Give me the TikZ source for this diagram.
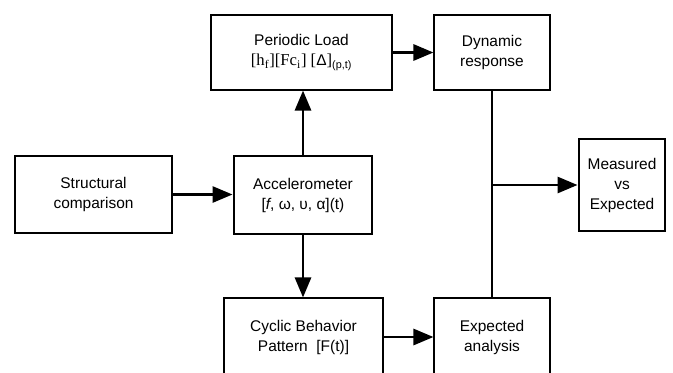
\documentclass[tikz,border=0pt]{standalone}
\usepackage{fontspec}
\setmainfont{Liberation Sans}
\newfontfamily\serifx{Liberation Serif}
\usetikzlibrary{arrows.meta}
\begin{document}
\begin{tikzpicture}[x=0.75pt,y=-0.75pt,
  box/.style={draw,line width=0.8pt,align=center,inner sep=0pt,
    font=\fontsize{11.6}{15}\selectfont},
  thickbox/.style={box,line width=2.2pt},
  conn/.style={line width=2.1pt,-{Triangle[length=15pt,width=12pt]}},
  plain/.style={line width=2.1pt}]
\useasboundingbox (0,0) rectangle (673,372);
\clip (0,0) rectangle (673,372);
\node[box,minimum width=181*0.75pt,minimum height=75*0.75pt] (PL) at (301.5,52.5)
  {Periodic Load\\{\serifx\fontsize{12.5}{15}\selectfont[h\textsubscript{f}][Fc\textsubscript{i}] [}Δ{\serifx\fontsize{12.5}{15}\selectfont]}\textsubscript{(p,t)}};
\node[box,minimum width=116*0.75pt,minimum height=75*0.75pt] (DR) at (492,52.5)
  {Dynamic\\response};
\node[box,minimum width=157*0.75pt,minimum height=77*0.75pt] (SC) at (93.5,194.5)
  {Structural\\comparison};
\node[thickbox,minimum width=138*0.75pt,minimum height=78*0.75pt] (AC) at (303,195)
  {Accelerometer\\{}[\textit{f}, ω, υ, α](t)};
\node[box,minimum width=159*0.75pt,minimum height=78*0.75pt] (CY) at (303.5,337)
  {Cyclic Behavior\\Pattern\ \ [F(t)]};
\node[box,minimum width=116*0.75pt,minimum height=78*0.75pt] (EX) at (492,337)
  {Expected\\analysis};
\node[thickbox,minimum width=86*0.75pt,minimum height=92*0.75pt] (ME) at (622,185)
  {Measured\\vs\\Expected};
\draw[conn] (PL.east) -- (DR.west);
\draw[conn] (AC.north) -- (AC.north |- PL.south);
\draw[conn] (SC.east) -- (SC.east -| AC.west);
\draw[conn] (AC.south) -- (AC.south |- CY.north);
\draw[conn] (CY.east) -- (EX.west);
\draw[plain] (DR.south) -- (EX.north);
\coordinate (J) at (DR.south |- ME.west);
\draw[conn] (J) -- (ME.west);
\end{tikzpicture}
\end{document}
